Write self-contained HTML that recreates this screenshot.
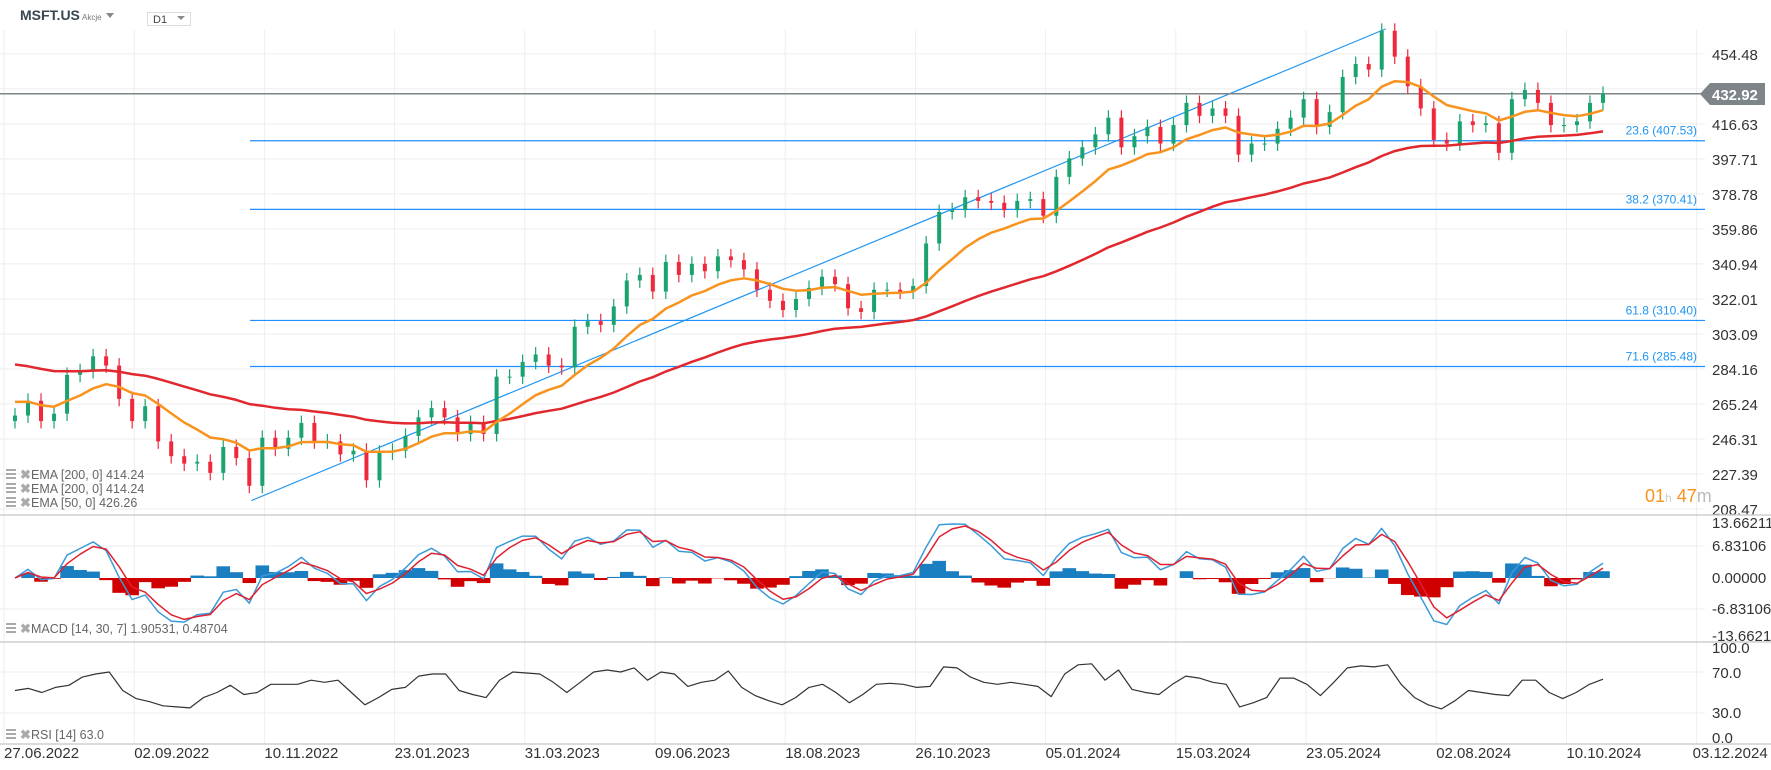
<!DOCTYPE html>
<html><head><meta charset="utf-8"><style>
body{margin:0;background:#fff;font-family:"Liberation Sans",sans-serif;}
#wrap{position:relative;width:1771px;height:770px;overflow:hidden;}
svg{position:absolute;left:0;top:0;}
</style></head><body><div id="wrap">
<svg id="c" width="1771" height="770"></svg>
</div>
<script>
const priceTicks=[454.48,435.56,416.63,397.71,378.78,359.86,340.94,322.01,303.09,284.16,265.24,246.31,227.39,208.47];
const dateLabels=["27.06.2022","02.09.2022","10.11.2022","23.01.2023","31.03.2023","09.06.2023","18.08.2023","26.10.2023","05.01.2024","15.03.2024","23.05.2024","02.08.2024","10.10.2024","03.12.2024"];
const closes=[259,267,256,260,281,283,291,286,268,256,264,245,237,233,234,228,242,236,221,247,241,247,255,245,245,238,240,
224,239,240,248,258,263,258,249,255,249,280,280,288,292,286,285,307,310,308,318,332,335,326,342,335,341,337,345,343,338,327,321,316,322,328,334,330,317,315,327,327,326,329,352,369,370,377,375,374,370,375,376,
367,388,398,404,411,420,404,410,415,406,416,428,421,425,421,400,406,406,414,420,430,415,423,442,449,446,467,453,437,425,408,406,418,416,417,401,430,435,428,416,416,418,428,432.92];
const rsi=[52,54,50,55,57,65,68,70,52,44,41,37,36,35,45,50,57,48,50,58,58,58,62,60,62,50,38,45,53,55,66,68,68,52,48,45,62,70,69,68,60,50,60,70,72,70,74,62,70,68,56,60,62,71,55,47,42,38,45,55,58,50,40,48,58,59,58,55,56,75,74,65,60,58,60,58,56,46,68,77,78,62,72,53,50,48,58,66,64,60,58,36,40,45,64,64,58,47,60,74,76,75,77,58,45,38,34,42,52,50,48,47,62,62,50,44,50,58,63];
const fibLevels=[407.53,370.41,310.40,285.48];
const fibNames=["23.6","38.2","61.8","71.6"];
const lastPrice=432.92;
const ema200Seed=288, ema50Seed=268;

const S=document.getElementById('c');const NS='http://www.w3.org/2000/svg';
function el(t,a,p){const e=document.createElementNS(NS,t);for(const k in a)e.setAttribute(k,a[k]);(p||S).appendChild(e);return e;}
const yP=p=>509-(p-208.47)*1.85;
const xI=(i,n)=>15+i*(1588/(n-1));
const yM=v=>578-v*4.54;
const yR=v=>672+(70-v)*1.025;
const PR=1705;
for(let k=0;k<14;k++){const x=4+130.2*k;const g=el('line',{x1:x,x2:x,y1:30,y2:744,stroke:'#eeeeee'});}
priceTicks.forEach(p=>{const g=el('line',{x1:0,x2:PR,y1:yP(p),y2:yP(p),stroke:'#eeeeee'});
 if(p!==435.56){const t=el('text',{x:1712,y:yP(p)+6,'font-size':15,fill:'#333'});t.textContent=p.toFixed(2);}});
[546,609].forEach(y=>el('line',{x1:0,x2:PR,y1:y,y2:y,stroke:'#eeeeee'}));
[672,713].forEach(y=>el('line',{x1:0,x2:PR,y1:y,y2:y,stroke:'#eeeeee'}));
[515,642,744].forEach(y=>{const s=el('line',{x1:0,x2:1771,y1:y,y2:y,stroke:'#cfcfcf','stroke-width':1.5});});
fibLevels.forEach((f,i)=>{const l=el('line',{x1:250,x2:PR,y1:yP(f),y2:yP(f),stroke:'#1e90ff','stroke-width':1.2});
 const t=el('text',{x:1697,y:yP(f)-6,'font-size':12,fill:'#2196f3','text-anchor':'end'});t.textContent=fibNames[i]+' ('+f.toFixed(2)+')';});
const lowI=18,highI=105;
const tl=el('line',{x1:xI(lowI,closes.length)+2,y1:yP(213),x2:xI(highI,closes.length)+4,y2:yP(468),stroke:'#2196f3','stroke-width':1.2});
const lp=el('line',{x1:0,x2:1705,y1:yP(lastPrice),y2:yP(lastPrice),stroke:'#7d8588','stroke-width':1.5});
const n=closes.length;
for(let i=0;i<n;i++){const o=i?closes[i-1]:closes[0]-3,c=closes[i],x=xI(i,n);const up=c>=o;const col=up?'#1aa36f':'#f0283c';
 const hi=Math.max(o,c)+4,lo=Math.min(o,c)-4;
 const w=el('line',{x1:x,x2:x,y1:yP(hi),y2:yP(lo),stroke:col,'stroke-width':1.2});
 const b=el('rect',{x:x-2,y:yP(Math.max(o,c)),width:4,height:Math.max(1,Math.abs(yP(o)-yP(c))),fill:col});}
function ema(a,span,seed){const k=2/(span+1);let e=seed;return a.map(v=>(e=e+(v-e)*k));}
const e200=ema(closes,40,ema200Seed),e50=ema(closes,10,ema50Seed);
function poly(vals,fy,col,w,name){const pts=vals.map((v,i)=>xI(i,vals.length).toFixed(1)+','+fy(v).toFixed(1)).join(' ');const p=el('polyline',{points:pts,fill:'none',stroke:col,'stroke-width':w,'stroke-linejoin':'round'});return p;}
poly(e200,yP,'#e0282e',2.5,'ema-200-line');
poly(e50,yP,'#f7931e',2.5,'ema-50-line');
const f=ema(closes,2.8,closes[0]),s=ema(closes,6,closes[0]);const macd=f.map((v,i)=>v-s[i]);const sig=ema(macd,2.2,0);
macd.forEach((m,i)=>{const h=(m-sig[i]);const x=xI(i,n);const y0=578,y1=yM(h*1.4);const r=el('rect',{x:x-6.8,y:Math.min(y0,y1),width:13.6,height:Math.abs(y1-y0),fill:h>=0?'#1a7fc1':'#d10000'});});
poly(macd,yM,'#3a9ad9',1.5,'macd-line');
poly(sig,yM,'#e02030',1.5,'macd-signal-line');
poly(rsi,yR,'#333',1.2,'rsi-line');
[['13.66211',528],['6.83106',551],['0.00000',583],['-6.83106',614],['-13.6621',641]].forEach(a=>{const t=el('text',{x:1712,y:a[1],'font-size':15,fill:'#333'});t.textContent=a[0];});
[['100.0',653],['70.0',678],['30.0',718],['0.0',743]].forEach(a=>{const t=el('text',{x:1712,y:a[1],'font-size':15,fill:'#333'});t.textContent=a[0];});
dateLabels.forEach((d,k)=>{const t=el('text',{x:4+130.2*k-(k==13?4:0),y:758,'font-size':15,fill:'#333'});t.textContent=d;});
const pb=el('polygon',{points:'1700,94 1710,83 1765,83 1765,105 1710,105',fill:'#7d8588'});
const pt=el('text',{x:1712,y:100,'font-size':15,fill:'#fff','font-weight':'bold'});pt.textContent='432.92';
const tm=el('text',{x:1645,y:502,'font-size':18,fill:'#f7931e'});tm.innerHTML='01<tspan fill="#ccc" font-size="12">h</tspan> 47<tspan fill="#bbb">m</tspan>';
function leg(y,txt,name){const g=el('g',{});
 el('rect',{x:6,y:y-9,width:10,height:2,fill:'#aaa'},g);el('rect',{x:6,y:y-5,width:10,height:2,fill:'#aaa'},g);el('rect',{x:6,y:y-1,width:10,height:2,fill:'#aaa'},g);
 const x=el('text',{x:20,y:y+1,'font-size':13,fill:'#aaa','font-weight':'bold'},g);x.textContent='✖';
 const t=el('text',{x:31,y:y+1,'font-size':12.5,fill:'#666'},g);t.textContent=txt;}
leg(478,'EMA [200,  0] 414.24','legend-ema200');leg(492,'EMA [200,  0] 414.24','legend-ema200-b');leg(506,'EMA [50,  0] 426.26','legend-ema50');
leg(632,'MACD [14, 30, 7] 1.90531,  0.48704','legend-macd');leg(738,'RSI [14] 63.0','legend-rsi');
const h=el('text',{x:20,y:20,'font-size':14,'font-weight':'bold',fill:'#37474f'});h.textContent='MSFT.US';
const h2=el('text',{x:82,y:20,'font-size':8,fill:'#777'});h2.textContent='Akcje';
el('polygon',{points:'106,13 114,13 110,18',fill:'#888'});
const tf=el('rect',{x:147.5,y:12.5,width:43,height:13,fill:'#fff',stroke:'#ddd'});
const tft=el('text',{x:153,y:23,'font-size':11,fill:'#444'});tft.textContent='D1';
el('polygon',{points:'177,16 185,16 181,20',fill:'#888'});
</script></body></html>
